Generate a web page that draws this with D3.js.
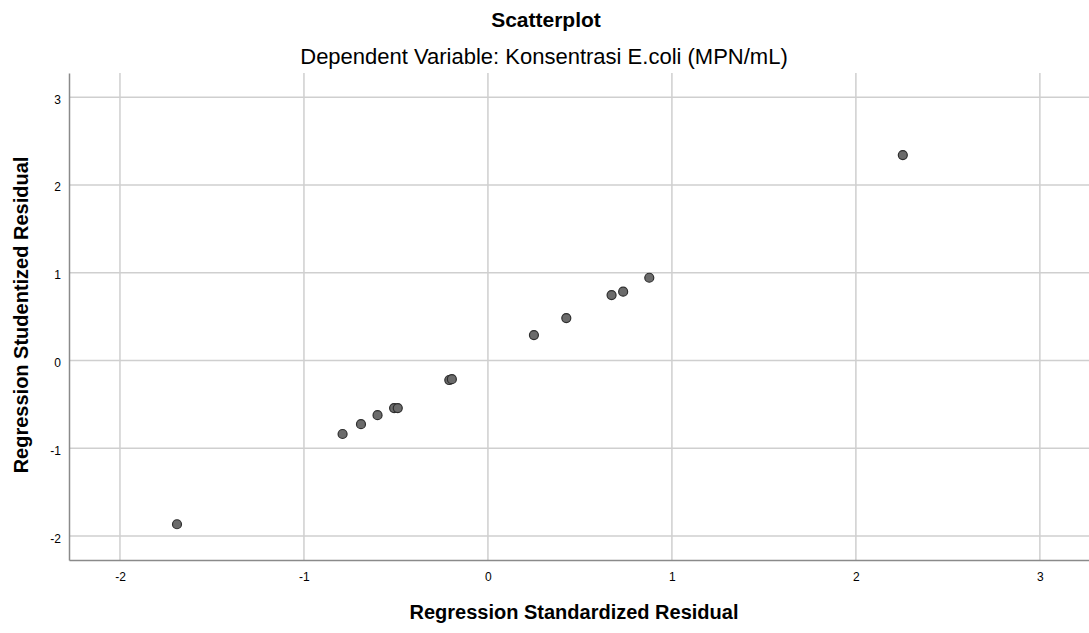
<!DOCTYPE html>
<html>
<head>
<meta charset="utf-8">
<script src="https://cdn.jsdelivr.net/npm/d3@7"></script>
<style>
  body { margin: 0; background: #fff; }
  svg text { font-family: "Liberation Sans", Arial, sans-serif; fill: #000; }
</style>
</head>
<body>
<div id="chart"></div>
<script>
const width = 1089;
const height = 633;

// standardized residual (x) vs studentized residual (y)
const stdResid = [-1.69, -0.79, -0.69, -0.60, -0.51, -0.49, -0.21, -0.196, 0.25, 0.426, 0.672, 0.735, 0.877, 2.255];
const studResid = [-1.865, -0.837, -0.725, -0.622, -0.542, -0.542, -0.222, -0.212, 0.29, 0.484, 0.746, 0.784, 0.943, 2.34];
const xTicks = [-2, -1, 0, 1, 2, 3];
const yTicks = [-2, -1, 0, 1, 2, 3];

const points = stdResid.map((d, i) => ({ x: d, y: studResid[i] }));

const margin = { top: 73, right: 0, bottom: 73, left: 69 };

const svg = d3.select("#chart")
    .append("svg")
    .attr("width", width)
    .attr("height", height);

const x = d3.scaleLinear()
    .domain([-2.277, 3.267])
    .range([margin.left, width - margin.right]);

const y = d3.scaleLinear()
    .domain([-2.272, 3.275])
    .range([height - margin.bottom, margin.top]);

// grid
svg.append("g")
    .selectAll("line")
    .data(xTicks)
    .join("line")
    .attr("x1", d => x(d)).attr("x2", d => x(d))
    .attr("y1", margin.top).attr("y2", height - margin.bottom)
    .attr("stroke", "#cfcfcf")
    .attr("stroke-width", 1.5);

svg.append("g")
    .selectAll("line")
    .data(yTicks)
    .join("line")
    .attr("x1", margin.left).attr("x2", width)
    .attr("y1", d => y(d)).attr("y2", d => y(d))
    .attr("stroke", "#cfcfcf")
    .attr("stroke-width", 1.5);

// axes (SPSS uses a plain hyphen for negatives)
const fmt = d => String(d);

const xAxis = svg.append("g")
    .attr("transform", `translate(0,${height - margin.bottom})`)
    .call(d3.axisBottom(x).tickValues(xTicks).tickSize(0).tickPadding(12).tickFormat(fmt));
xAxis.select(".domain").attr("stroke", "#8a8a8a").attr("stroke-width", 1.5);
xAxis.selectAll("text").style("font-size", "12px").attr("fill", "#000");

const yAxis = svg.append("g")
    .attr("transform", `translate(${margin.left},0)`)
    .call(d3.axisLeft(y).tickValues(yTicks).tickSize(0).tickPadding(8).tickFormat(fmt));
yAxis.select(".domain").attr("stroke", "#8a8a8a").attr("stroke-width", 1.5);
yAxis.selectAll("text").style("font-size", "12px").attr("fill", "#000").attr("dy", "0.5em");

// points
svg.append("g")
    .selectAll("circle")
    .data(points)
    .join("circle")
    .attr("cx", d => x(d.x))
    .attr("cy", d => y(d.y))
    .attr("r", 4.5)
    .attr("fill", "#6b6b6b")
    .attr("stroke", "#2e2e2e")
    .attr("stroke-width", 1.2);

// titles
svg.append("text")
    .attr("x", 546).attr("y", 27)
    .attr("text-anchor", "middle")
    .style("font-size", "21px").style("font-weight", "bold")
    .text("Scatterplot");

svg.append("text")
    .attr("x", 544).attr("y", 64)
    .attr("text-anchor", "middle")
    .style("font-size", "22px")
    .text("Dependent Variable: Konsentrasi E.coli (MPN/mL)");

svg.append("text")
    .attr("x", 574).attr("y", 619)
    .attr("text-anchor", "middle")
    .style("font-size", "20px").style("font-weight", "bold")
    .text("Regression Standardized Residual");

svg.append("text")
    .attr("transform", "translate(28,315) rotate(-90)")
    .attr("text-anchor", "middle")
    .style("font-size", "20px").style("font-weight", "bold")
    .text("Regression Studentized Residual");
</script>
</body>
</html>
